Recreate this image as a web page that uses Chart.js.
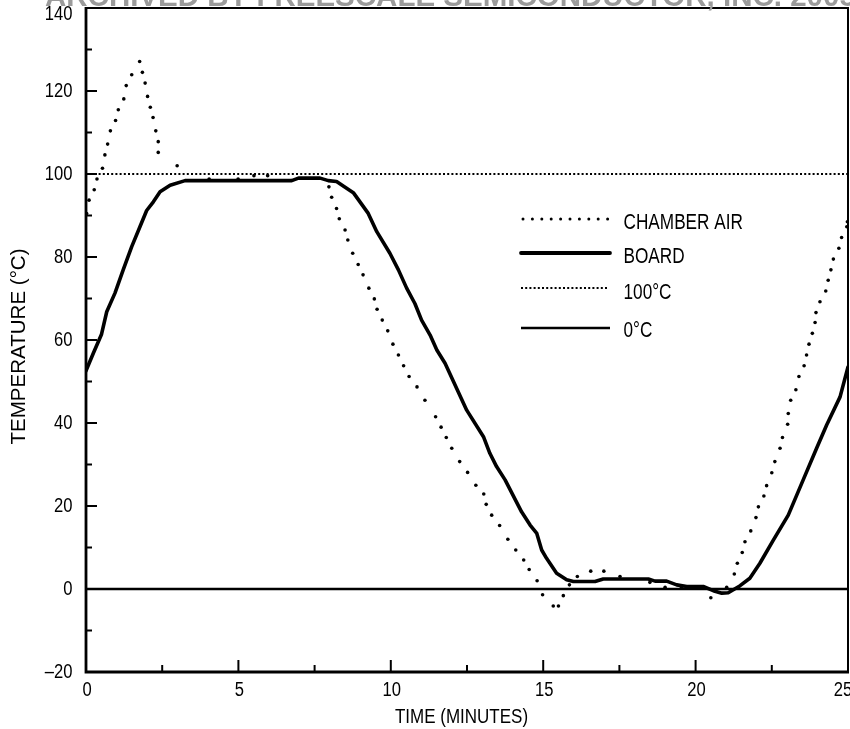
<!DOCTYPE html>
<html><head><meta charset="utf-8">
<script src="https://cdn.jsdelivr.net/npm/chart.js@4.4.0/dist/chart.umd.min.js"></script>
<style>
html,body{margin:0;padding:0;background:#fff;overflow:hidden;width:850px;height:729px}
#wrap{position:absolute;left:0;top:0;width:870px;height:729px}
</style>
</head><body><div id="wrap"><canvas id="c"></canvas></div>
<script>
// ---- data ----
const chamberTime = [0.02,0.10,0.27,0.36,0.54,0.62,0.71,0.80,0.97,1.06,1.24,1.32,1.50,1.76,1.85,1.94,2.02,2.11,2.20,2.29,2.37,2.37,2.99,4.04,4.99,5.51,5.96,
  7.97,8.06,8.22,8.31,8.50,8.59,8.75,8.93,9.09,9.28,9.46,9.55,9.72,9.90,10.07,10.25,10.42,10.60,10.86,11.12,11.47,11.65,11.82,12.00,12.26,12.52,12.79,13.05,13.13,13.31,13.57,13.84,14.10,14.36,14.54,14.80,14.98,15.33,15.50,15.66,15.86,16.12,16.56,16.99,17.52,18.50,19.00,19.54,20.50,
  21.02,21.27,21.37,21.53,21.62,21.81,21.98,22.06,22.24,22.33,22.50,22.60,22.77,22.85,23.02,23.04,23.12,23.29,23.39,23.56,23.64,23.72,23.83,23.92,23.95,24.08,24.27,24.35,24.44,24.52,24.70,24.79,24.96,24.98];
const chamberTemp = [90.5,93.7,96.2,98.8,101.4,104.6,107.2,110.4,112.9,115.5,118.1,121.3,123.9,127.1,124.5,121.9,118.7,116.1,113.6,110.4,107.8,105.2,102.0,98.8,98.8,99.6,99.6,
  96.9,94.4,91.7,89.2,86.5,84.1,80.9,78.2,75.7,72.5,69.9,67.4,64.8,62.2,59.0,56.4,53.8,51.2,48.7,45.5,41.5,39.0,36.5,33.9,30.7,28.1,25.0,22.9,20.4,17.8,15.3,12.0,9.4,7.0,4.7,2.0,-1.4,-4.1,-4.1,-1.6,1.0,3.0,4.3,4.3,3.0,1.6,0.4,0.4,-2.1,
  0.4,3.6,6.2,8.8,11.4,14.0,17.2,19.8,22.4,24.9,28.0,30.7,33.9,36.5,39.7,42.3,45.5,48.0,51.2,53.8,56.4,59.0,61.6,64.2,66.6,69.2,71.8,74.4,76.9,79.5,82.1,84.7,87.3,88.5];
const boardTime = [0,0.24,0.51,0.68,0.95,1.22,1.5,1.77,1.99,2.21,2.43,2.76,3.25,6.75,6.97,7.68,7.95,8.22,8.77,9.26,9.54,9.97,10.25,10.52,10.79,11.01,11.29,11.51,11.78,12.49,13.04,13.25,13.47,13.75,14.29,14.57,14.79,14.95,15.11,15.44,15.77,15.99,16.7,16.97,18.45,18.67,19.05,19.38,19.71,20.25,20.58,20.86,21.07,21.46,21.78,22.11,22.55,23.04,23.53,23.97,24.3,24.74,25.0];
const boardTemp = [52.6,56.8,61.4,66.8,71.3,76.9,82.5,87.3,91.2,93.3,95.7,97.3,98.4,98.4,99.0,99.0,98.4,98.2,95.5,90.5,86.1,80.9,76.9,72.5,68.8,64.8,61.2,57.6,54.4,43.1,36.7,32.7,29.5,26.3,18.6,15.4,13.4,9.4,7.4,3.8,2.2,1.8,1.8,2.4,2.4,1.9,1.9,1.0,0.6,0.6,-0.4,-1.0,-0.9,0.8,2.6,6.2,11.8,17.8,26.3,33.9,39.5,46.3,53.5];
const refTime = [0, 25];
const ref100 = [100, 100];
const ref0 = [0, 0];
const seriesLabels = ['CHAMBER AIR', 'BOARD', '100°C', '0°C'];
const xTickValues = [0, 5, 10, 15, 20, 25];
const xTickLabels = ['0', '5', '10', '15', '20', '25'];
const yTickValues = [-20, 0, 20, 40, 60, 80, 100, 120, 140];
const yTickLabels = ['–20', '0', '20', '40', '60', '80', '100', '120', '140'];
const xTitle = 'TIME (MINUTES)';
const yTitle = 'TEMPERATURE (°C)';
const headerText = 'ARCHIVED BY FREESCALE SEMICONDUCTOR, INC. 2005';

const FAMILY = '"Liberation Sans", Arial, Helvetica, sans-serif';
Chart.defaults.font.family = FAMILY;
Chart.defaults.color = '#000';

const zip = (xs, ys) => xs.map((x, i) => ({x, y: ys[i]}));

// condensed text (the original uses a narrow sans face)
function narrowText(ctx, text, x, y, size, sx, align, rotate) {
  ctx.save();
  ctx.translate(x, y);
  if (rotate) ctx.rotate(-Math.PI / 2);
  ctx.font = size + 'px ' + FAMILY;
  if (typeof sx === 'object') { sx = sx.width / ctx.measureText(text).width; }
  ctx.scale(sx, 1);
  ctx.textAlign = align;
  ctx.textBaseline = 'middle';
  ctx.fillStyle = '#000';
  ctx.fillText(text, 0, 0);
  ctx.restore();
}

const framePlugin = {
  id: 'frameTicks',
  afterDraw(chart) {
    const {ctx, chartArea: a, scales: {x, y}} = chart;
    ctx.save();
    ctx.strokeStyle = '#000';
    ctx.lineCap = 'butt';
    // inward ticks
    ctx.lineWidth = 2;
    for (let v = -10; v < 140; v += 10) {
      const py = y.getPixelForValue(v);
      const len = (v % 20 === 0) ? 11 : 6;
      ctx.beginPath(); ctx.moveTo(a.left, py); ctx.lineTo(a.left + len, py); ctx.stroke();
    }
    for (let v = 2.5; v < 25; v += 2.5) {
      const px = x.getPixelForValue(v);
      const len = (Math.abs(v % 5) < 1e-6) ? 12 : 7;
      ctx.beginPath(); ctx.moveTo(px, a.bottom); ctx.lineTo(px, a.bottom - len); ctx.stroke();
    }
    // frame
    ctx.lineWidth = 2;
    ctx.beginPath(); ctx.moveTo(a.left, a.top); ctx.lineTo(a.right, a.top); ctx.lineTo(a.right, a.bottom); ctx.stroke();
    ctx.lineWidth = 2.8;
    ctx.beginPath(); ctx.moveTo(a.left, a.top - 1); ctx.lineTo(a.left, a.bottom); ctx.lineTo(a.right + 1, a.bottom); ctx.stroke();
    ctx.restore();

    // tick labels
    yTickValues.forEach((v, i) => {
      const py = Math.max(y.getPixelForValue(v), a.top + 6.5);
      narrowText(ctx, yTickLabels[i], a.left - 13.5, py, 20, 0.83, 'right');
    });
    xTickValues.forEach((v, i) => {
      const px = Math.min(x.getPixelForValue(v) + 1, a.right - 5);
      narrowText(ctx, xTickLabels[i], px, a.bottom + 18.5, 20, 0.83, 'center');
    });
    // axis titles
    narrowText(ctx, xTitle, (a.left + a.right) / 2 - 5.5, 717, 21, 0.81, 'center');
    narrowText(ctx, yTitle, 19.5, (a.top + a.bottom) / 2 + 6.5, 21, {width: 196}, 'center', true);

    // header
    ctx.save();
    ctx.fillStyle = '#9b9b9b';
    ctx.font = 'bold 29.5px ' + FAMILY;
    ctx.textBaseline = 'alphabetic';
    ctx.textAlign = 'left';
    ctx.fillText(headerText, 45, 6);
    ctx.restore();
  }
};

const legendPlugin = {
  id: 'insideLegend',
  afterDatasetsDraw(chart) {
    const ctx = chart.ctx;
    const ds = chart.data.datasets;
    const x0 = 521, x1 = 610, tx = 623.5;
    const lineY = [219, 253, 288, 328];
    const textY = [223, 257, 293, 331];
    ctx.save();
    ctx.fillStyle = '#000'; ctx.strokeStyle = '#000';
    for (let i = 0; i < 10; i++) {
      ctx.beginPath(); ctx.arc(x0 + 2 + i * 9.4, lineY[0], 1.5, 0, Math.PI * 2); ctx.fill();
    }
    ctx.lineWidth = 3.8; ctx.lineCap = 'round';
    ctx.beginPath(); ctx.moveTo(x0, lineY[1]); ctx.lineTo(x1, lineY[1]); ctx.stroke();
    ctx.lineWidth = 2; ctx.lineCap = 'butt'; ctx.setLineDash([2, 2.2]);
    ctx.beginPath(); ctx.moveTo(x0, lineY[2]); ctx.lineTo(x1 - 2, lineY[2]); ctx.stroke();
    ctx.setLineDash([]); ctx.lineWidth = 2.4;
    ctx.beginPath(); ctx.moveTo(x0, lineY[3]); ctx.lineTo(x1, lineY[3]); ctx.stroke();
    ctx.restore();
    ds.forEach((d, i) => narrowText(ctx, d.label, tx, textY[i], 21.5, 0.80, 'left'));
  }
};

new Chart(document.getElementById('c'), {
  type: 'scatter',
  data: {
    datasets: [
      {label: seriesLabels[0], data: zip(chamberTime, chamberTemp), showLine: false,
       pointRadius: 1.8, pointBackgroundColor: '#000', pointBorderWidth: 0, pointHoverRadius: 1.8},
      {label: seriesLabels[1], data: zip(boardTime, boardTemp), showLine: true,
       borderColor: '#000', borderWidth: 3.6, pointRadius: 0, tension: 0, borderJoinStyle: 'round', borderCapStyle: 'round'},
      {label: seriesLabels[2], data: zip(refTime, ref100), showLine: true,
       borderColor: '#000', borderWidth: 2, borderDash: [2, 2.2], pointRadius: 0},
      {label: seriesLabels[3], data: zip(refTime, ref0), showLine: true,
       borderColor: '#000', borderWidth: 2.4, pointRadius: 0}
    ]
  },
  options: {
    responsive: true, maintainAspectRatio: false, animation: false,
    devicePixelRatio: 1,
    layout: {padding: {top: 8, right: 22, left: 0, bottom: 0}},
    plugins: {legend: {display: false}, tooltip: {enabled: false}, title: {display: false}},
    scales: {
      x: {type: 'linear', min: 0, max: 25,
        afterBuildTicks: s => { s.ticks = xTickValues.map(v => ({value: v})); },
        ticks: {display: false},
        grid: {display: false, drawTicks: false}, border: {display: false},
        title: {display: false, text: xTitle},
        afterFit: s => { s.height = 57; s.paddingLeft = 0; s.paddingRight = 0; }
      },
      y: {type: 'linear', min: -20, max: 140,
        afterBuildTicks: s => { s.ticks = yTickValues.map(v => ({value: v})); },
        ticks: {display: false},
        grid: {display: false, drawTicks: false}, border: {display: false},
        title: {display: false, text: yTitle},
        afterFit: s => { s.width = 86; s.paddingTop = 0; s.paddingBottom = 0; }
      }
    }
  },
  plugins: [framePlugin, legendPlugin]
});
</script></body></html>
